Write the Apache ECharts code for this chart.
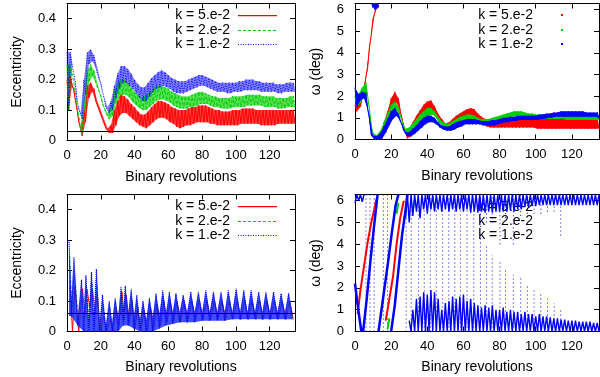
<!DOCTYPE html>
<html>
<head>
<meta charset="utf-8">
<script src="https://cdn.jsdelivr.net/npm/echarts@6/dist/echarts.min.js"></script>
<style>
  html, body { margin: 0; padding: 0; background: #fff; }
  #main { width: 600px; height: 377px; }
</style>
</head>
<body>
<div id="main"></div>
<script>
// envelopes are sampled every 2 revolutions, x = 0, 2, ..., 134
const envStep = 2;
const names = ['k = 5.e-2', 'k = 2.e-2', 'k = 1.e-2'];

// top left: eccentricity, upper / lower edge of the fast oscillation
const tlRedHi = [0.20,0.21,0.17,0.10,0.04,0.10,0.18,0.19,0.17,0.13,
  0.10,0.07,0.04,0.05,0.10,0.13,0.15,0.145,0.135,0.12,
  0.11,0.095,0.085,0.085,0.095,0.11,0.12,0.13,0.13,0.125,
  0.12,0.11,0.105,0.10,0.10,0.10,0.105,0.11,0.11,0.115,
  0.115,0.115,0.11,0.105,0.10,0.10,0.095,0.095,0.095,0.10,
  0.10,0.10,0.105,0.105,0.105,0.105,0.10,0.10,0.10,0.10,
  0.10,0.10,0.10,0.10,0.10,0.10,0.10,0.10];
const tlRedLo = [0.10,0.18,0.13,0.06,0.015,0.06,0.14,0.16,0.13,0.10,
  0.07,0.04,0.025,0.025,0.05,0.08,0.09,0.09,0.08,0.07,
  0.06,0.05,0.045,0.04,0.05,0.06,0.07,0.075,0.075,0.07,
  0.06,0.055,0.045,0.04,0.045,0.05,0.05,0.055,0.06,0.06,
  0.06,0.06,0.055,0.055,0.05,0.05,0.05,0.05,0.05,0.05,
  0.05,0.055,0.055,0.055,0.055,0.055,0.055,0.05,0.05,0.05,
  0.05,0.05,0.055,0.055,0.055,0.055,0.055,0.055];
const tlGreenHi = [0.25,0.25,0.19,0.11,0.04,0.13,0.23,0.25,0.23,0.19,
  0.15,0.11,0.09,0.11,0.16,0.19,0.20,0.20,0.19,0.175,
  0.16,0.15,0.14,0.145,0.155,0.165,0.175,0.18,0.18,0.175,
  0.17,0.16,0.155,0.15,0.145,0.145,0.145,0.15,0.155,0.16,
  0.16,0.155,0.15,0.145,0.145,0.14,0.14,0.14,0.14,0.145,
  0.145,0.145,0.145,0.15,0.15,0.15,0.15,0.15,0.145,0.145,
  0.145,0.145,0.14,0.14,0.14,0.14,0.145,0.145];
const tlGreenLo = [0.10,0.22,0.16,0.08,0.02,0.09,0.19,0.21,0.19,0.16,
  0.12,0.09,0.07,0.08,0.12,0.14,0.15,0.15,0.14,0.125,
  0.115,0.105,0.10,0.10,0.11,0.12,0.13,0.135,0.135,0.13,
  0.125,0.115,0.11,0.105,0.105,0.105,0.11,0.11,0.115,0.12,
  0.12,0.12,0.115,0.11,0.11,0.105,0.105,0.105,0.105,0.11,
  0.11,0.11,0.11,0.115,0.115,0.115,0.115,0.115,0.11,0.11,
  0.11,0.11,0.105,0.105,0.105,0.11,0.11,0.11];
const tlBlueHi = [0.29,0.29,0.22,0.13,0.09,0.20,0.29,0.30,0.28,0.24,
  0.19,0.14,0.11,0.13,0.18,0.22,0.245,0.245,0.235,0.22,
  0.20,0.185,0.175,0.175,0.19,0.205,0.215,0.225,0.23,0.225,
  0.215,0.205,0.20,0.195,0.195,0.195,0.20,0.205,0.21,0.215,
  0.215,0.21,0.205,0.20,0.195,0.19,0.19,0.19,0.19,0.19,
  0.19,0.195,0.195,0.20,0.20,0.20,0.195,0.195,0.19,0.19,
  0.19,0.19,0.185,0.185,0.185,0.19,0.19,0.19];
const tlBlueLo = [0.10,0.25,0.19,0.10,0.07,0.15,0.25,0.26,0.24,0.20,
  0.16,0.11,0.09,0.10,0.14,0.17,0.19,0.19,0.18,0.17,
  0.155,0.14,0.13,0.13,0.145,0.16,0.17,0.175,0.18,0.175,
  0.17,0.16,0.155,0.155,0.155,0.16,0.165,0.17,0.175,0.18,
  0.18,0.175,0.17,0.165,0.16,0.16,0.16,0.155,0.155,0.16,
  0.16,0.16,0.165,0.165,0.165,0.165,0.165,0.16,0.16,0.16,
  0.16,0.16,0.155,0.155,0.16,0.16,0.16,0.16];
const tlRefLine = 0.03;

// top right: omega (wraps at 2 pi)
const trRedHi = [1.6,1.8,2.1,2.9,4.3,5.6,6.28,0.3,0.8,1.3,
  1.9,2.2,1.9,1.0,0.4,0.5,0.8,1.1,1.35,1.6,
  1.75,1.8,1.55,1.2,0.95,0.75,0.8,0.95,1.1,1.2,
  1.3,1.4,1.45,1.4,1.2,1.05,0.95,0.9,0.9,0.95,
  1.0,1.0,1.0,1.0,1.0,1.0,1.0,1.0,1.0,1.0,
  1.0,1.0,1.0,1.0,1.0,1.0,1.0,1.0,1.0,1.0,
  1.0,1.0,1.0,1.0,1.0,1.0,1.0,1.0];
const trRedLo = [1.3,1.5,2.2,3.3,4.8,5.85,6.2,0.05,0.4,0.9,
  1.4,1.7,1.3,0.5,0.05,0.15,0.45,0.7,0.95,1.15,
  1.3,1.35,1.15,0.85,0.6,0.45,0.45,0.6,0.75,0.85,
  0.95,1.0,1.05,1.0,0.85,0.7,0.6,0.55,0.55,0.55,
  0.55,0.55,0.55,0.55,0.55,0.55,0.55,0.55,0.55,0.55,
  0.5,0.5,0.5,0.5,0.5,0.5,0.5,0.5,0.5,0.5,
  0.5,0.5,0.5,0.5,0.5,0.5,0.5,0.5];
const trGreenHi = [2.0,2.1,2.4,2.65,1.4,0.3,0.2,0.4,0.8,1.2,
  1.6,1.75,1.5,0.9,0.5,0.55,0.75,0.95,1.15,1.3,
  1.45,1.45,1.3,1.05,0.85,0.75,0.75,0.85,0.95,1.05,
  1.1,1.15,1.15,1.1,1.0,0.95,0.95,0.95,1.0,1.05,
  1.1,1.15,1.2,1.25,1.3,1.3,1.3,1.25,1.2,1.2,
  1.15,1.15,1.15,1.15,1.15,1.15,1.15,1.15,1.15,1.15,
  1.15,1.15,1.15,1.15,1.15,1.15,1.15,1.15];
const trGreenLo = [1.5,1.7,2.0,2.0,0.5,0.0,0.0,0.1,0.5,0.9,
  1.2,1.35,1.1,0.5,0.25,0.3,0.45,0.65,0.85,1.0,
  1.1,1.15,1.0,0.75,0.6,0.5,0.5,0.6,0.7,0.8,
  0.85,0.9,0.9,0.85,0.8,0.75,0.75,0.75,0.8,0.85,
  0.9,0.95,1.0,1.05,1.1,1.1,1.1,1.05,1.0,1.0,
  0.95,0.95,0.95,0.95,0.95,0.95,0.95,0.95,0.9,0.9,
  0.9,0.9,0.9,0.9,0.9,0.9,0.9,0.9];
const trBlueHi = [2.4,2.1,2.2,2.15,1.0,0.2,0.15,0.3,0.6,0.95,
  1.3,1.45,1.2,0.7,0.35,0.35,0.5,0.65,0.85,1.0,
  1.1,1.1,1.0,0.8,0.65,0.6,0.6,0.7,0.8,0.85,
  0.9,0.95,0.95,0.95,0.9,0.85,0.85,0.85,0.9,0.9,
  0.95,1.0,1.0,1.05,1.05,1.1,1.1,1.1,1.1,1.1,
  1.1,1.15,1.15,1.2,1.2,1.25,1.25,1.3,1.3,1.3,
  1.3,1.3,1.3,1.3,1.25,1.25,1.25,1.25];
const trBlueLo = [1.5,1.8,1.9,1.4,0.2,0.0,0.0,0.05,0.3,0.65,
  0.95,1.1,0.85,0.4,0.15,0.15,0.25,0.4,0.55,0.7,
  0.8,0.8,0.7,0.55,0.45,0.4,0.4,0.45,0.55,0.6,
  0.7,0.7,0.7,0.7,0.7,0.65,0.65,0.65,0.65,0.7,
  0.75,0.8,0.8,0.85,0.85,0.9,0.9,0.9,0.9,0.9,
  0.9,0.95,0.95,1.0,1.0,1.05,1.05,1.05,1.05,1.05,
  1.05,1.05,1.05,1.05,1.05,1.05,1.05,1.0];
// blue / green points just below 2 pi right after the wrap
const trBlueWrap = [[9.5, 6.28], [10, 6.1], [10.5, 6.28], [11, 6.0], [11.5, 6.28], [12, 6.05], [12.5, 6.28], [13, 6.1]];
const trGreenWrap = [[10, 6.28], [10.5, 6.15], [11, 6.28]];

// bottom left: eccentricity, one tooth of the slow sawtooth per entry
const blToothX = [1.2,4.1,8.6,11.2,14.5,17.4,21,25,28.5,32,34.5,38,41.3,45,48.8,52.7,56.7,60.6,64.5,68.8,
  73.3,77.8,82.2,86.7,91.2,95.5,100.2,104.7,109,113.5,117.8,122.3,126.8,131.2];
const blBluePeak = [0.30,0.245,0.17,0.185,0.195,0.205,0.12,0.10,0.11,0.145,0.15,0.14,0.12,0.10,0.11,0.125,0.135,0.13,0.125,0.12,
  0.13,0.13,0.135,0.13,0.13,0.135,0.14,0.135,0.135,0.13,0.13,0.13,0.125,0.125];
const blBlueValley = [0.10,0.04,0.05,0.04,0.04,0.02,0.02,0.03,0.05,0.07,0.06,0.05,0.04,0.04,0.05,0.06,0.065,0.065,0.065,0.065,
  0.065,0.065,0.065,0.065,0.065,0.065,0.065,0.065,0.065,0.065,0.065,0.065,0.065,0.065];
const blBlueTrough = [0.05,0.02,0.0,0.0,0.0,0.0,0.0,0.0,0.0,0.02,0.02,0.01,0.0,0.0,0.0,0.01,0.02,0.025,0.03,0.03,
  0.03,0.035,0.035,0.035,0.035,0.04,0.04,0.04,0.04,0.04,0.04,0.04,0.04,0.04];
const blRedPeak = [0.15,0.15,0.14,0.14,0.14,0.12,0.05,0.04,0.08,0.13,0.12,0.10,0.08,0.07,0.08,0.09,0.10,0.10,0.10,0.10,
  0.10,0.10,0.10,0.10,0.10,0.10,0.10,0.10,0.10,0.10,0.10,0.10,0.10,0.10];
const blRedTrough = [0.0,0.0,0.05,0.08,0.06,0.0,0.0,0.0,0.02,0.04,0.03,0.01,0.0,0.0,0.01,0.02,0.03,0.03,0.03,0.035,
  0.04,0.04,0.04,0.04,0.04,0.04,0.04,0.04,0.04,0.04,0.04,0.04,0.04,0.04];
const blGreenPeak = [0.25,0.18,0.12,0.15,0.16,0.15,0.09,0.08,0.10,0.12,0.12,0.11,0.09,0.08,0.09,0.10,0.11,0.105,0.10,0.10,
  0.105,0.105,0.11,0.105,0.105,0.11,0.11,0.11,0.11,0.105,0.105,0.105,0.10,0.10];
const blGreenTrough = [0.08,0.05,0.04,0.02,0.0,0.0,0.0,0.0,0.01,0.03,0.02,0.01,0.0,0.0,0.0,0.02,0.03,0.03,0.03,0.03,
  0.035,0.04,0.04,0.04,0.04,0.04,0.04,0.04,0.04,0.04,0.04,0.04,0.04,0.04];
const blShift = [0.6, 0.3];
const blRefLine = 0.055;

// bottom right: omega scatter
const brLowHi = [null,null,null,null,null,null,null,null,null,null,null,null,null,null,null,
  0.5,1.0,1.5,1.6,1.8,1.7,1.9,1.8,1.5,1.0,
  1.3,1.4,1.6,1.5,1.6,1.7,1.4,1.5,1.3,1.2,
  1.1,1.2,1.1,1.2,1.0,1.0,1.1,0.9,1.0,0.9,
  0.9,0.8,0.9,0.8,0.8,0.7,0.8,0.7,0.7,0.65,
  0.6,0.6,0.55,0.55,0.5,0.5,0.5,0.45,0.45,0.45,
  0.45,0.4,0.4];
const brTopLo = [5.9,6.0,5.95,null,null,null,null,null,null,null,null,null,null,null,
  5.2,5.0,5.3,5.5,5.2,5.6,5.4,5.6,5.5,5.6,
  5.5,5.6,5.5,5.6,5.5,5.6,5.5,5.6,5.45,5.5,
  5.45,5.5,5.45,5.5,5.45,5.5,5.5,5.5,5.5,5.55,
  5.5,5.6,5.6,5.7,5.7,5.75,5.75,5.8,5.8,5.8,
  5.8,5.8,5.8,5.8,5.8,5.8,5.8,5.8,5.8,5.8,
  5.8,5.8,5.8,5.8];
// sparse columns of points sweeping through all angles
const brColX  = [6.1,8.3,10.6,15.7,18,28.3,31.1,35.2,38.3,41.7,45,48.5,51.9,55.2,58.3,62,65.7,69.4,72.8,75.9,
  80.2,83.3,87.6,91.7,95.4,99.1,102.8,106.5,110.2,113.8];
const brColHi = [6.28,6.28,6.28,6.28,6.28,6.28,6.28,6.28,6.28,6.28,6.28,6.28,6.28,6.28,6.28,6.28,6.28,4.5,4.0,3.5,
  3.2,2.8,2.6,2.5,2.2,2.0,1.8,1.5,1.3,1.1];
const brColLo = [6.28,6.28,6.28,6.28,6.28,6.28,6.28,6.28,6.28,6.28,6.28,6.28,6.28,6.28,6.28,6.28,6.28,4.8,5.0,5.0,
  4.0,5.2,4.0,5.3,5.4,5.4,5.4,5.5,5.5,4.4];
// early precession streaks
const brBlueStreaks = [
  [[0, 2.2], [1.5, 1.2], [3.5, 0]],
  [[4.5, 0], [6.5, 1.5], [8.5, 3.2], [10.5, 4.8], [12.5, 6.28]],
  [[13, 0], [15.5, 1.5], [18, 3.0], [20.5, 4.6], [22.5, 5.8], [24, 6.28]],
  [[20, 0], [22, 1.2], [24, 2.8], [26, 4.4], [28, 5.6], [29, 6.28]]
];
const brRedStreaks = [
  [[1.5, 0.8], [3, 1.9], [5, 3.0], [7, 4.1], [9, 5.0], [12, 6.1]],
  [[17, 0.5], [19, 1.5], [21, 2.5], [23, 4.0], [25, 5.2], [27, 6.0]]
];
const brGreenStreaks = [
  [[18, 0.1], [19, 0.6]],
  [[23, 5.4], [24, 5.9]],
  [[32, 5.6], [33, 6.0]]
];

const TWO_PI = 6.2832;
const FONT = 'Liberation Sans';
const RED = '#ff0000', GREEN = '#00d000', BLUE = '#0000ff';

// hi at x, lo half a step later; break the line where omega wraps
function zigzag(x0, step, hi, lo) {
  const pts = [];
  let prev = null;
  const push = (x, y) => {
    if (y == null) { pts.push([x, '-']); prev = null; return; }
    if (prev != null && Math.abs(y - prev) > 3) pts.push([x, '-']);
    pts.push([x, y]);
    prev = y;
  };
  for (let i = 0; i < hi.length; i++) {
    const x = x0 + i * step;
    push(x, hi[i]);
    push(x + step / 2, lo[i]);
  }
  return pts;
}
// same envelopes as closed polygons (split at gaps / wraps)
function bandParts(x0, step, hi, lo) {
  const parts = [];
  let cur = null, prev = null;
  for (let i = 0; i < hi.length; i++) {
    if (hi[i] == null) { cur = null; prev = null; continue; }
    if (!cur || Math.abs(hi[i] - prev) > 3) { cur = { up: [], dn: [] }; parts.push(cur); }
    const x = x0 + i * step;
    cur.up.push([x, hi[i]]);
    cur.dn.push([x + step / 2, lo[i]]);
    prev = hi[i];
  }
  return parts;
}
// sawtooth: tooth tips at xs, the low point midway to the next tooth
function toothMid(xs, i) {
  return i + 1 < xs.length ? (xs[i] + xs[i + 1]) / 2 : xs[i] + 2.2;
}
function sawLine(xs, shift, peak, trough) {
  const pts = [];
  xs.forEach((x, i) => {
    pts.push([x + shift, peak[i]]);
    pts.push([toothMid(xs, i) + shift, trough[i]]);
  });
  return pts;
}
function sawBand(xs, peak, valley, trough) {
  const up = [], dn = [];
  xs.forEach((x, i) => {
    up.push([x, peak[i]], [toothMid(xs, i), valley[i]]);
    dn.push([toothMid(xs, i), trough[i]]);
  });
  dn.unshift([xs[0], trough[0]]);
  return [{ up, dn }];
}
function teeth(x0, step, tips, base) {
  const pts = [];
  for (let i = 0; i < tips.length; i++) {
    const x = x0 + i * step;
    if (tips[i] == null) { pts.push([x, '-']); continue; }
    pts.push([x, tips[i]]);
    pts.push([x + step / 2, base]);
  }
  return pts;
}
function joinParts(parts) {
  const pts = [];
  parts.forEach(p => { p.forEach(q => pts.push(q)); pts.push([p[p.length - 1][0], '-']); });
  return pts;
}
function columns() {
  const lo = [], hi = [];
  brColX.forEach((x, i) => {
    if (brColHi[i] >= brColLo[i]) {
      lo.push([x, 0], [x, TWO_PI], [x, '-']);
    } else {
      lo.push([x, 0], [x, brColHi[i]], [x, '-']);
      hi.push([x, brColLo[i]], [x, TWO_PI], [x, '-']);
    }
  });
  return lo.concat(hi);
}

function line(name, gi, data, color, type, width, z) {
  return {
    name, type: 'line', xAxisIndex: 2 * gi, yAxisIndex: 2 * gi, data,
    symbol: 'none', showSymbol: false, silent: true, animation: false,
    connectNulls: false, z: z || 2,
    itemStyle: { color },
    lineStyle: { color, width, type }
  };
}
function band(gi, parts, color, opacity, z) {
  return {
    type: 'custom', xAxisIndex: 2 * gi, yAxisIndex: 2 * gi, silent: true, animation: false,
    clip: true, z: z || 2,
    data: parts.map(p => p.up[0]),
    renderItem: (params, api) => {
      const p = parts[params.dataIndex];
      const pts = p.up.concat(p.dn.slice().reverse()).map(q => api.coord(q));
      return { type: 'polygon', shape: { points: pts }, style: { fill: color, opacity } };
    }
  };
}

const axisBase = {
  type: 'value',
  axisLine: { onZero: false, lineStyle: { color: '#000', width: 1 } },
  axisTick: { inside: true, length: 5, lineStyle: { color: '#000' } },
  splitLine: { show: false }
};
const labelStyle = { color: '#000', fontSize: 13, fontFamily: FONT, showMaxLabel: false };
const nameStyle = { color: '#000', fontSize: 14, fontFamily: FONT };

const grids = [
  { left: 67, top: 3.5, width: 228, height: 137 },
  { left: 355, top: 3.5, width: 244, height: 136 },
  { left: 67, top: 194.5, width: 228, height: 137 },
  { left: 355, top: 194.5, width: 244, height: 137 }
];
const yNames = ['Eccentricity', 'ω (deg)', 'Eccentricity', 'ω (deg)'];
const yMax = [0.45, TWO_PI, 0.45, TWO_PI];
const yStep = [0.1, 1, 0.1, 1];
const yNameGap = [43, 32, 43, 32];
const xNameGap = [30, 30, 29, 29];

const xAxis = [], yAxis = [];
grids.forEach((g, gi) => {
  xAxis.push(Object.assign({}, axisBase, {
    gridIndex: gi, position: 'bottom', min: 0, max: 135, interval: 20,
    name: 'Binary revolutions', nameLocation: 'middle', nameGap: xNameGap[gi], nameTextStyle: nameStyle,
    axisLabel: Object.assign({ margin: 8 }, labelStyle)
  }));
  xAxis.push(Object.assign({}, axisBase, {
    gridIndex: gi, position: 'top', min: 0, max: 135, interval: 20, axisLabel: { show: false }
  }));
  yAxis.push(Object.assign({}, axisBase, {
    gridIndex: gi, position: 'left', min: 0, max: yMax[gi], interval: yStep[gi],
    name: yNames[gi], nameLocation: 'middle', nameGap: yNameGap[gi], nameTextStyle: nameStyle,
    axisLabel: Object.assign({ margin: 11 }, labelStyle)
  }));
  yAxis.push(Object.assign({}, axisBase, {
    gridIndex: gi, position: 'right', min: 0, max: yMax[gi], interval: yStep[gi], axisLabel: { show: false }
  }));
});

const refLine = v => ({
  silent: true, symbol: 'none', label: { show: false }, animation: false,
  lineStyle: { color: '#000', width: 1, type: 'solid' }, data: [{ yAxis: v }]
});

const series = [];
// top left
series.push(band(0, bandParts(0, envStep, tlRedHi, tlRedLo), RED, 0.75));
series.push(band(0, bandParts(0, envStep, tlGreenHi, tlGreenLo), GREEN, 0.65));
series.push(band(0, bandParts(0, envStep, tlBlueHi, tlBlueLo), BLUE, 0.5));
const tlRed = line(names[0], 0, zigzag(0, envStep, tlRedHi, tlRedLo), RED, 'solid', 1, 3);
tlRed.markLine = refLine(tlRefLine);
series.push(tlRed);
series.push(line(names[1], 0, zigzag(0, envStep, tlGreenHi, tlGreenLo), GREEN, [3, 2], 1, 3));
series.push(line(names[2], 0, zigzag(0, envStep, tlBlueHi, tlBlueLo), BLUE, [1, 1.5], 1, 3));
// top right
series.push(band(1, bandParts(0, envStep, trRedHi, trRedLo), RED, 1, 2));
series.push(line(names[0], 1, zigzag(0, envStep, trRedHi, trRedLo), RED, 'solid', 1, 2));
series.push(band(1, bandParts(0, envStep, trGreenHi, trGreenLo), GREEN, 1, 3));
series.push(line(names[1], 1, zigzag(0, envStep, trGreenHi, trGreenLo), GREEN, 'solid', 1, 3));
series.push(line('wrap-g', 1, trGreenWrap, GREEN, 'solid', 1.3, 3));
series.push(band(1, bandParts(0, envStep, trBlueHi, trBlueLo), BLUE, 1, 4));
series.push(line(names[2], 1, zigzag(0, envStep, trBlueHi, trBlueLo), BLUE, 'solid', 1, 4));
series.push(line('wrap-b', 1, trBlueWrap, BLUE, 'solid', 1.5, 4));
// bottom left
const blRed = line(names[0], 2, sawLine(blToothX, blShift[0], blRedPeak, blRedTrough), RED, 'solid', 1, 2);
blRed.markLine = refLine(blRefLine);
series.push(blRed);
series.push(line(names[1], 2, sawLine(blToothX, blShift[1], blGreenPeak, blGreenTrough), GREEN, [3, 2], 1, 2));
series.push(band(2, sawBand(blToothX, blBluePeak, blBlueValley, blBlueTrough), '#1020ff', 0.8, 3));
series.push(line(names[2], 2, sawLine(blToothX, 0, blBluePeak, blBlueTrough), BLUE, [1, 1], 1.2, 3));
// bottom right
series.push(line('cols', 3, columns(), BLUE, [1, 3], 1, 3));
series.push(line(names[0], 3, joinParts(brRedStreaks), RED, 'solid', 2, 3));
series.push(line(names[1], 3, joinParts(brGreenStreaks), GREEN, 'solid', 2, 3));
series.push(line(names[2], 3, joinParts(brBlueStreaks), BLUE, 'solid', 2.5, 4));
series.push(line('low', 3, teeth(0, envStep, brLowHi, 0), BLUE, 'solid', 1.4, 4));
series.push(line('top', 3, teeth(0, envStep, brTopLo, TWO_PI), BLUE, 'solid', 1.4, 4));

// keys: text right aligned, sample to its right
const keyColors = [RED, GREEN, BLUE];
const keyDash = [null, [3, 2], [1, 1.5]];
const graphic = [];
function keyText(x, y, i) {
  graphic.push({ type: 'text', x, y, z: 0,
    style: { text: names[i], fill: '#000', font: '14px "Liberation Sans"', align: 'right', verticalAlign: 'middle' } });
}
function lineKey(textRight, rows) {
  rows.forEach((y, i) => {
    keyText(textRight, y, i);
    if (keyDash[i]) {
      graphic.push({ type: 'line', z: 10, shape: { x1: textRight + 8, y1: y + 0.5, x2: textRight + 47, y2: y + 0.5 },
        style: { stroke: keyColors[i], lineWidth: 1.2, lineDash: keyDash[i] } });
    } else {
      graphic.push({ type: 'rect', z: 10, shape: { x: textRight + 8, y: y, width: 39, height: 1.2 },
        style: { fill: keyColors[i] } });
    }
  });
}
function pointKey(textRight, rows, showPoints) {
  rows.forEach((y, i) => {
    keyText(textRight, y, i);
    if (showPoints) graphic.push({ type: 'rect', z: 0, shape: { x: textRight + 28, y: y - 1, width: 2, height: 2 },
      style: { fill: keyColors[i] } });
  });
}
lineKey(230, [15, 30, 44]);
lineKey(230, [206, 221, 235]);
pointKey(533, [15, 30, 44], true);
pointKey(533, [207, 221, 235], false);

const chart = echarts.init(document.getElementById('main'));
chart.setOption({
  animation: false,
  backgroundColor: '#fff',
  grid: grids,
  xAxis, yAxis,
  graphic,
  series
});
</script>
</body>
</html>
